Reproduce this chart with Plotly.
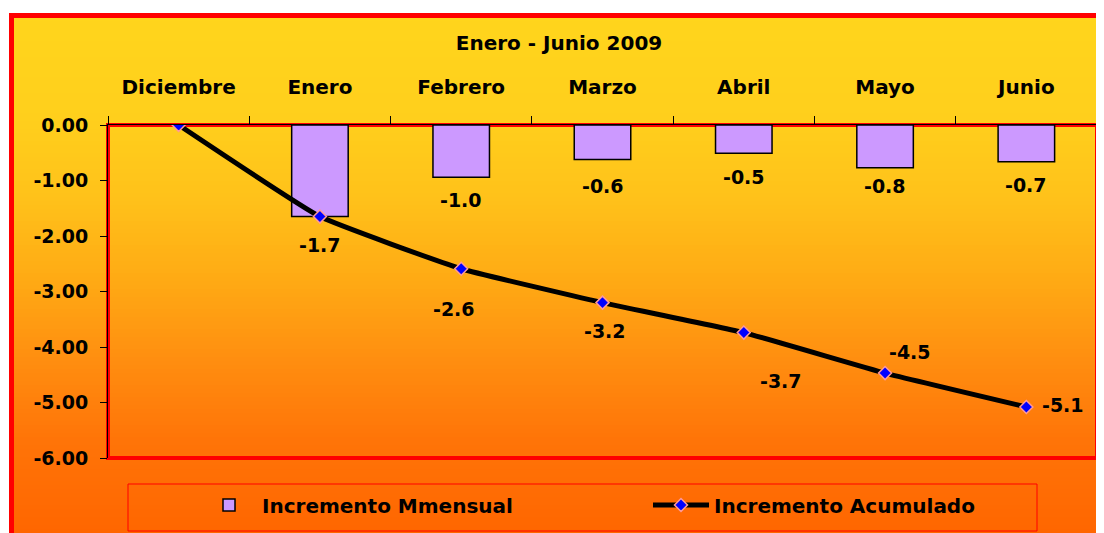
import plotly.graph_objects as go

# ---------------- data ----------------
categories = ["Diciembre", "Enero", "Febrero", "Marzo", "Abril", "Mayo", "Junio"]
monthly = [None, -1.65, -0.94, -0.62, -0.51, -0.77, -0.66]
cumulative = [0.0, -1.65, -2.59, -3.20, -3.74, -4.47, -5.08]
monthly_labels = [None, "-1.7", "-1.0", "-0.6", "-0.5", "-0.8", "-0.7"]
cumulative_labels = [None, None, "-2.6", "-3.2", "-3.7", "-4.5", "-5.1"]
y_tickvals = [0, -1, -2, -3, -4, -5, -6]
y_ticktext = ["0.00", "-1.00", "-2.00", "-3.00", "-4.00", "-5.00", "-6.00"]
title_text = "Enero - Junio 2009"
name_monthly = "Incremento Mmensual"
name_cumulative = "Incremento Acumulado"

# ---------------- geometry / style ----------------
# the page body has an 8px margin: figure pixel = screen pixel - 8
OX, OY = 8, 8
W, H = 1104 - OX, 533 - OY
L, R, T, B = 108 - OX, 1097 - OX, 125 - OY, 458 - OY
FONT = "DejaVu Sans"

def px_x(px):
    return (px - OX - L) / (R - L)

def px_y(py):
    return (B - (py - OY)) / (B - T)

def cx(px):
    return (px - OX) / W

def cy(py):
    return 1 - (py - OY) / H

# label offsets in pixels (dx right, dy down)
bar_label_dy = [0, 28, 23, 27, 24, 18, 23]
cum_label_off = [(0, 0), (0, 0), (-7, 40), (2, 28), (37, 48), (25, -21), (37, -2)]

# gradient stops (screen pixel y, rgb)
grad = [(13, (255, 213, 28)), (120, (255, 207, 28)), (200, (255, 193, 26)),
        (280, (255, 170, 20)), (360, (255, 142, 16)), (440, (255, 116, 8)),
        (533, (255, 102, 0))]

def grad_color(py):
    for (y0, c0), (y1, c1) in zip(grad[:-1], grad[1:]):
        if y0 <= py <= y1:
            t = (py - y0) / (y1 - y0)
            c = [round(a + (b - a) * t) for a, b in zip(c0, c1)]
            return "rgb(%d,%d,%d)" % tuple(c)
    return "rgb(%d,%d,%d)" % grad[-1][1]

shapes = []
step = 4
py = 13
while py < 540:
    shapes.append(dict(type="rect", xref="paper", yref="paper", layer="below",
                       x0=px_x(10), x1=px_x(1110), y0=px_y(py + step + 1), y1=px_y(py),
                       fillcolor=grad_color(py + step / 2), line=dict(width=0)))
    py += step

# outer red frame
shapes.append(dict(type="rect", xref="paper", yref="paper", layer="below",
                   x0=px_x(11.5), x1=px_x(1115), y0=px_y(545), y1=px_y(15.5),
                   fillcolor="rgba(0,0,0,0)", line=dict(color="#FF0000", width=5)))
# plot area red border
shapes.append(dict(type="rect", xref="paper", yref="paper", layer="below",
                   x0=0, x1=1, y0=0, y1=1,
                   fillcolor="rgba(0,0,0,0)", line=dict(color="#FF0000", width=4)))
# legend box
shapes.append(dict(type="rect", xref="paper", yref="paper", layer="below",
                   x0=px_x(128), x1=px_x(1037), y0=px_y(531), y1=px_y(484),
                   fillcolor="rgba(0,0,0,0)", line=dict(color="#FF0000", width=1)))

fig = go.Figure()
fig.add_trace(go.Bar(
    x=categories, y=monthly, name=name_monthly, width=0.4,
    marker=dict(color="#CC99FF", line=dict(color="#000000", width=1.5)),
))
fig.add_trace(go.Scatter(
    x=categories, y=cumulative, name=name_cumulative, mode="lines+markers",
    line=dict(color="#000000", width=5, shape="spline", smoothing=0.35),
    marker=dict(symbol="diamond", size=10, color="#0000FF",
                line=dict(color="#FF9999", width=1.5)),
))

annotations = []
lab_font = dict(family=FONT, size=19, color="#000000", weight="bold")
for c, v, lab, dy in zip(categories, monthly, monthly_labels, bar_label_dy):
    if lab is None:
        continue
    annotations.append(dict(x=c, y=v, xref="x", yref="y", text=lab, showarrow=False,
                            yshift=-dy, xanchor="center", yanchor="middle", font=lab_font))
for c, v, lab, (dx, dy) in zip(categories, cumulative, cumulative_labels, cum_label_off):
    if lab is None:
        continue
    annotations.append(dict(x=c, y=v, xref="x", yref="y", text=lab, showarrow=False,
                            xshift=dx, yshift=-dy, xanchor="center", yanchor="middle",
                            font=lab_font))

fig.update_layout(
    width=W, height=H,
    margin=dict(l=L, r=W - R, t=T, b=H - B, pad=0),
    paper_bgcolor="#FFFFFF", plot_bgcolor="rgba(0,0,0,0)",
    font=dict(family=FONT, size=20, color="#000000", weight="bold"),
    title=dict(text=title_text, x=cx(559), xref="container", xanchor="center",
               y=cy(43), yref="container", yanchor="middle",
               font=dict(family=FONT, size=20, color="#000000", weight="bold")),
    showlegend=True,
    legend=dict(orientation="h", xref="container", yref="container",
                x=cx(196), xanchor="left", y=cy(505), yanchor="middle",
                bgcolor="rgba(0,0,0,0)", borderwidth=0,
                font=dict(family=FONT, size=20, color="#000000", weight="bold"),
                itemwidth=56, entrywidth=381, traceorder="normal"),
    xaxis=dict(type="category", side="top", showgrid=False, zeroline=False,
               showline=True, linecolor="#000000", linewidth=1,
               ticks="outside", ticklen=8, tickcolor="#000000", tickwidth=1,
               tickson="boundaries", ticklabelstandoff=22,
               tickfont=dict(family=FONT, size=20, color="#000000", weight="bold"),
               fixedrange=True),
    yaxis=dict(range=[-6, 0], showgrid=False, zeroline=False,
               showline=True, linecolor="#000000", linewidth=1,
               tickvals=y_tickvals, ticktext=y_ticktext,
               ticks="outside", ticklen=7, tickcolor="#000000", tickwidth=1,
               ticklabelstandoff=8,
               tickfont=dict(family=FONT, size=19, color="#000000", weight="bold"),
               fixedrange=True),
    shapes=shapes,
    annotations=annotations,
    bargap=0.6,
)

fig.write_html("out.html")
